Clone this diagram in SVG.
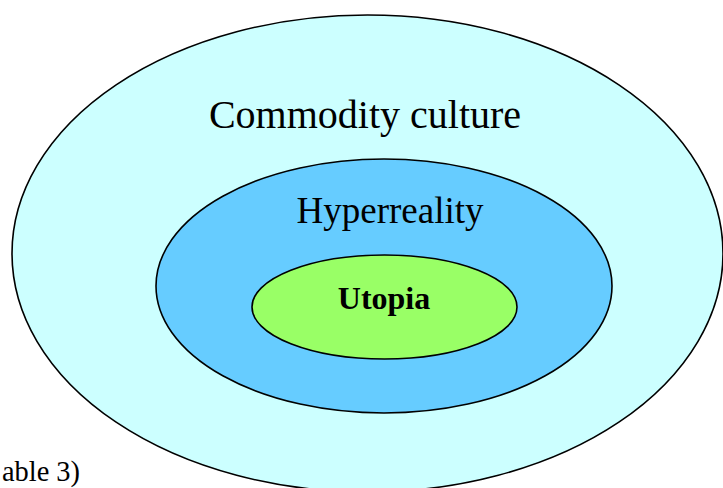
<svg xmlns="http://www.w3.org/2000/svg" width="723" height="488" viewBox="0 0 723 488">
<style>
.e{stroke:#000;stroke-width:1.6}
.t{font-family:"Liberation Serif","Times New Roman",serif;fill:#000;text-anchor:middle}
</style>
<rect width="723" height="488" fill="#fff"/>
<g id="commodity-culture">
<ellipse class="e" cx="367.5" cy="253.5" rx="355.5" ry="238.5" fill="#CCFFFF"/>
<text class="t" x="365" y="128" font-size="40">Commodity culture</text>
</g>
<g id="hyperreality">
<ellipse class="e" cx="384" cy="286" rx="228" ry="127" fill="#66CCFF"/>
<text class="t" x="390" y="223" font-size="37">Hyperreality</text>
</g>
<g id="utopia">
<ellipse class="e" cx="384.5" cy="307" rx="132.5" ry="52" fill="#99FF66"/>
<text class="t" x="384" y="309" font-size="32" font-weight="bold">Utopia</text>
</g>
<g id="connectors"/>
<text x="2" y="481" font-size="30" textLength="78" lengthAdjust="spacingAndGlyphs" font-family="Liberation Serif,'Times New Roman',serif">able 3)</text>
</svg>
